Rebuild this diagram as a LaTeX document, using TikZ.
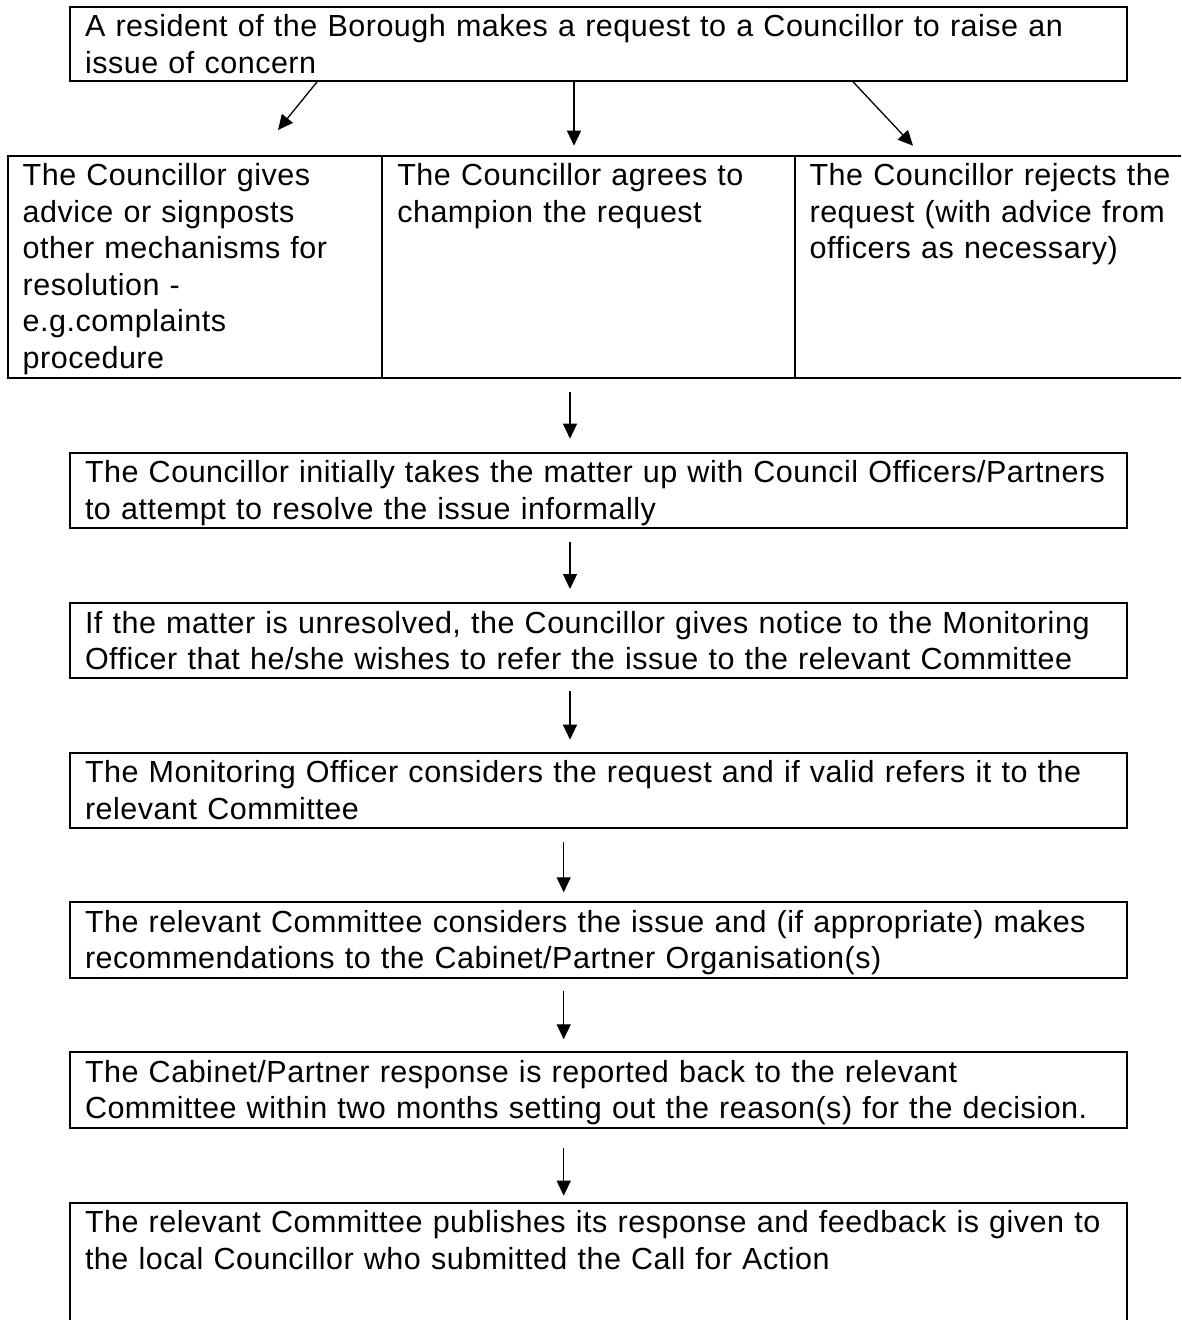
\documentclass[tikz,border=0pt]{standalone}
\usepackage{fontspec}
\setmainfont{Liberation Sans}[LetterSpace=1.7]
\usetikzlibrary{arrows.meta}

\tikzset{
  % text box: #1 = text width, #2 = depth below the first baseline (first baseline sits 30pt under the top)
  stepbox/.style 2 args={draw, line width=2pt, outer sep=0pt, anchor=north west,
    inner xsep=15pt, inner ysep=0pt, align=left,
    text width=#1, text height=30pt, text depth=#2},
  openbox/.style 2 args={stepbox={#1}{#2}, draw=none},
  flow/.style={line width=1.3pt, -{Triangle[length=15pt,width=14pt]}},
  bordr/.style={line width=2pt},
}

\begin{document}
\begin{tikzpicture}[x=1pt, y=-1pt, font=\fontsize{30.5pt}{36.5pt}\selectfont]
  \useasboundingbox[fill=white] (0,0) rectangle (1181,1320);

  % opening request
  \node[stepbox={1027pt}{44pt}] (top) at (70,6.7)
    {A resident of the Borough makes a request to a Councillor to raise an\\issue of concern};

  % the three possible responses
  \node[stepbox={344.6pt}{192pt}] (cell1) at (7.7,155.7)
    {The Councillor gives\\advice or signposts\\other mechanisms for\\resolution -\\e.g.complaints\\procedure};
  \node[stepbox={382.3pt}{192pt}] (cell2) at (382.3,155.7)
    {The Councillor agrees to\\champion the request};
  \node[openbox={372pt}{192pt}] (cell3) at (794.6,155.7)
    {The Councillor rejects the\\request (with advice from\\officers as necessary)};
  % the last column runs off the right edge, so it has no right border
  \draw[bordr] ([xshift=386.4pt]cell3.north west) -- (cell3.north west) -- (cell3.south west)
    -- ([xshift=386.4pt]cell3.south west);

  % escalation steps
  \node[stepbox={1027pt}{45pt}] (box2) at (70,452.7)
    {The Councillor initially takes the matter up with Council Officers/Partners\\to attempt to resolve the issue informally};
  \node[stepbox={1027pt}{45pt}] (box3) at (70,603)
    {If the matter is unresolved, the Councillor gives notice to the Monitoring\\Officer that he/she wishes to refer the issue to the relevant Committee};
  \node[stepbox={1027pt}{45.5pt}] (box4) at (70,752.7)
    {The Monitoring Officer considers the request and if valid refers it to the\\relevant Committee};
  \node[stepbox={1027pt}{45.4pt}] (box5) at (70,902.3)
    {The relevant Committee considers the issue and (if appropriate) makes\\recommendations to the Cabinet/Partner Organisation(s)};
  \node[stepbox={1027pt}{45.4pt}] (box6) at (70,1052.3)
    {The Cabinet/Partner response is reported back to the relevant\\Committee within two months setting out the reason(s) for the decision.};
  \node[openbox={1027pt}{87.3pt}] (box7) at (70,1202.7)
    {The relevant Committee publishes its response and feedback is given to\\the local Councillor who submitted the Call for Action};
  % the last box runs off the bottom edge, so it has no bottom border
  \draw[bordr] (box7.south west) -- (box7.north west) -- (box7.north east) -- (box7.south east);

  % connectors from the request to the responses
  \draw[flow] ([xshift=248pt]top.south west) -- ([xshift=270.3pt,yshift=25.7pt]cell1.north west);
  \draw[flow] ([xshift=504pt]top.south west) -- ([xshift=191.7pt,yshift=10pt]cell2.north west);
  \draw[flow] ([xshift=782pt]top.south west) -- ([xshift=118.4pt,yshift=10pt]cell3.north west);

  % connectors down the escalation chain
  \draw[flow, shorten <=14pt, shorten >=14pt] ([xshift=187.7pt]cell2.south west) -- ([xshift=500pt]box2.north west);
  \draw[flow, shorten <=14pt, shorten >=14pt] ([xshift=500pt]box2.south west) -- ([xshift=500pt]box3.north west);
  \draw[flow, shorten <=13pt, shorten >=13pt] ([xshift=500pt]box3.south west) -- ([xshift=500pt]box4.north west);
  \draw[flow, shorten <=14pt, shorten >=10pt] ([xshift=493.7pt]box4.south west) -- ([xshift=493.7pt]box5.north west);
  \draw[flow, shorten <=13pt, shorten >=13pt] ([xshift=493.7pt]box5.south west) -- ([xshift=493.7pt]box6.north west);
  \draw[flow, shorten <=20pt, shorten >=7pt] ([xshift=493.7pt]box6.south west) -- ([xshift=493.7pt]box7.north west);
\end{tikzpicture}
\end{document}
